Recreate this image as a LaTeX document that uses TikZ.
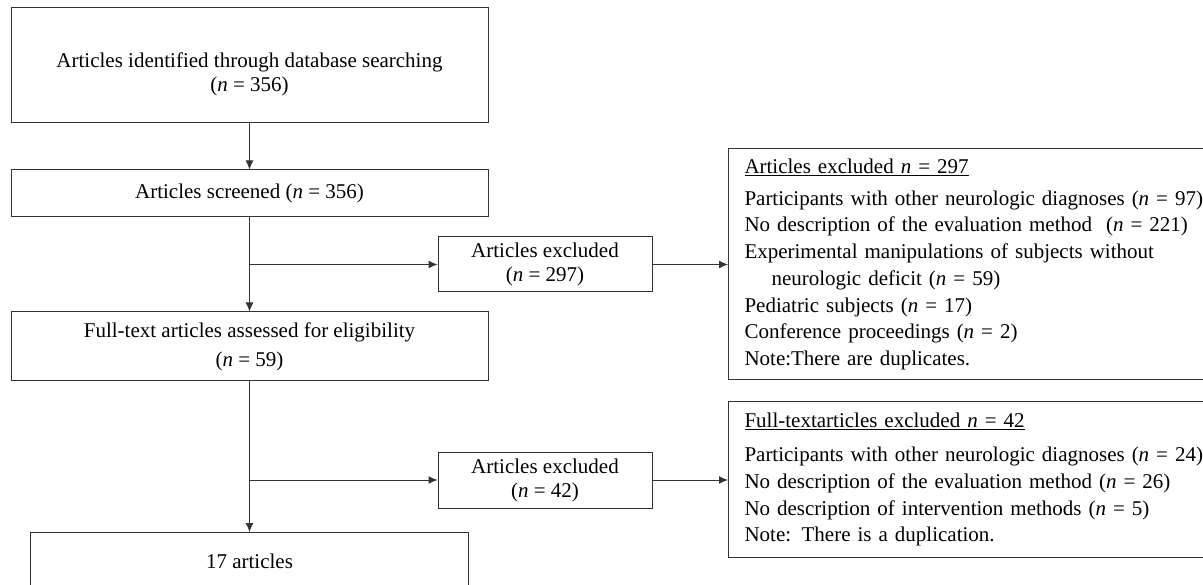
\documentclass[tikz,border=0pt]{standalone}
\usepackage{fontspec}
\setmainfont{Liberation Serif}
\usetikzlibrary{arrows.meta,positioning}

\begin{document}
\begin{tikzpicture}[
        x=1pt, y=-1pt,
        font=\fontsize{21}{24}\selectfont,
        every node/.style={draw=black!80, line width=1pt, text centered, inner sep=0pt},
        >={Latex[length=9pt,width=8pt]},
        flow/.style={->, draw=black!80, line width=1pt},
        stage/.style={minimum width=477pt, align=center},
        excl/.style={minimum width=214pt, align=center},
        reasons/.style={anchor=west, align=left, text width=490pt, inner xsep=16pt,
            font=\fontsize{21}{26.7}\selectfont},
    ]
    \useasboundingbox (0,0) rectangle (1203,585);
    \clip (0,0) rectangle (1203,585);
    % main column
    \node[stage, minimum height=115pt] (ident) at (249.5,65.5)
        {\rule{0pt}{32pt}Articles identified through database searching\\(\textit{n} = 356)};
    \node[stage, minimum height=47pt] (screen) at (249.5,193.5)
        {Articles screened (\textit{n} = 356)};
    \node[stage, minimum height=69pt] (full) at (249.5,346.5)
        {Full-text articles assessed for eligibility\\[5pt](\textit{n} = 59)};
    \node[minimum width=438pt, minimum height=58pt, anchor=north] (final) at (249.5,532)
        {17 articles};
    % exclusions
    \node[excl, minimum height=55pt] (excl1) at (545,264.5)
        {Articles excluded\\(\textit{n} = 297)};
    \node[excl, minimum height=56pt] (excl2) at (545,480)
        {Articles excluded\\(\textit{n} = 42)};
    \node[reasons, minimum height=231pt] (why1) at (728,264.5)
        {\underline{Articles excluded \textit{n} = 297}\\[5pt]
         Participants with other neurologic diagnoses (\textit{n} = 97)\\
         No description of the evaluation method~~(\textit{n} = 221)\\
         Experimental manipulations of subjects without\\
         \hspace*{27pt}neurologic deficit (\textit{n} = 59)\\
         Pediatric subjects (\textit{n} = 17)\\
         Conference proceedings (\textit{n} = 2)\\
         Note:There are duplicates.};
    \node[reasons, minimum height=155pt] (why2) at (728,479.5)
        {\underline{Full-textarticles excluded \textit{n} = 42}\\[8pt]
         Participants with other neurologic diagnoses (\textit{n} = 24)\\
         No description of the evaluation method (\textit{n} = 26)\\
         No description of intervention methods (\textit{n} = 5)\\
         Note: There is a duplication.};
    % connectors
    \coordinate (split1) at (screen.south |- excl1.west);
    \coordinate (split2) at (full.south |- excl2.west);
    \draw[flow] (ident) -- (screen);
    \draw[flow] (screen) -- (full);
    \draw[flow] (full) -- (final);
    \draw[flow] (split1) -- (excl1);
    \draw[flow] (split2) -- (excl2);
    \draw[flow] (excl1) -- (why1.west |- excl1.east);
    \draw[flow] (excl2) -- (why2.west |- excl2.east);
\end{tikzpicture}
\end{document}
